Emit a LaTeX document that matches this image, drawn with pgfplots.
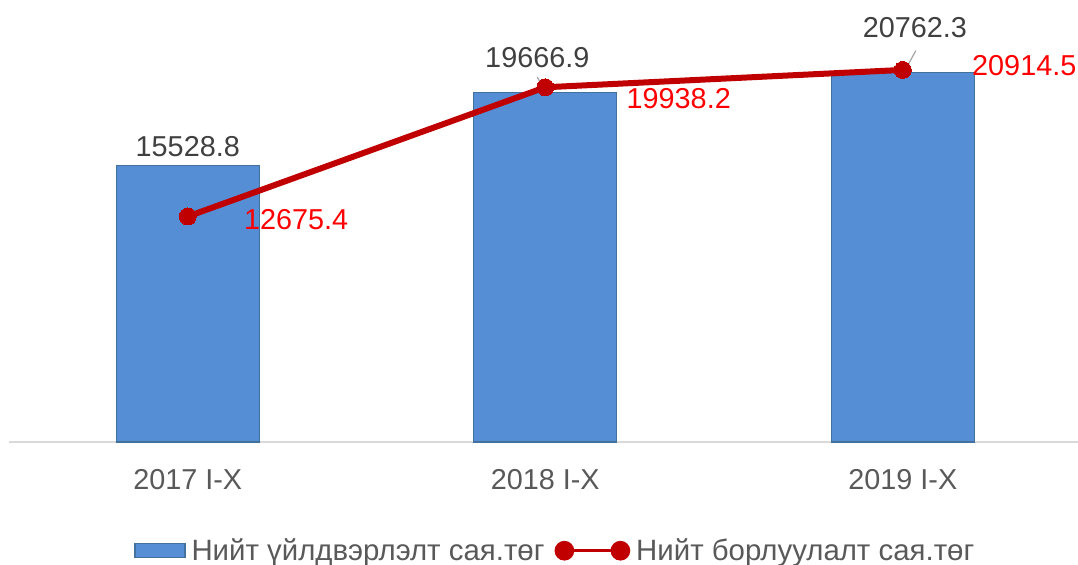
\documentclass[border=0pt]{standalone}
\usepackage{pgfplots}
\pgfplotsset{compat=1.18}
\usepackage{fontspec}
\setmainfont{Liberation Sans}
\definecolor{barblue}{RGB}{85,142,213}
\definecolor{baredge}{RGB}{65,113,156}
\definecolor{linered}{RGB}{192,0,0}
\definecolor{lblred}{RGB}{255,0,0}
\definecolor{txtgray}{RGB}{64,64,64}
\definecolor{tickgray}{RGB}{89,89,89}
\definecolor{axisgray}{RGB}{217,217,217}
\definecolor{leadgray}{RGB}{166,166,166}
\newcommand\lf{\fontsize{14.4}{17}\selectfont}
\newcommand\lgf{\fontsize{14.7}{17}\selectfont}
\begin{document}
\begin{tikzpicture}
\begin{axis}[
  at={(4.5pt,61.5pt)}, anchor=south west,
  scale only axis, width=534.5pt, height=221pt,
  xmin=-0.5, xmax=2.49, ymin=0, ymax=24845,
  axis y line=none, axis x line*=bottom,
  x axis line style={draw=axisgray, line width=0.75pt},
  xtick={0,1,2}, xticklabels={2017 I-X,2018 I-X,2019 I-X},
  major tick length=0pt,
  xticklabel style={font=\lf, text=tickgray, yshift=-10pt},
  clip=false,
  legend columns=2,
  legend style={at={(0.512,-0.246)}, anchor=center, draw=none, fill=none,
    font=\lgf, text=tickgray, inner sep=0pt,
    /tikz/every even column/.append style={column sep=3pt},
    /tikz/every odd column/.append style={column sep=1pt}},
]
\addplot[ybar, bar width=71.5pt, fill=barblue, draw=baredge, line width=0.6pt,
  legend image code/.code={\draw[fill=barblue, draw=baredge, line width=0.6pt] (0pt,-3.5pt) rectangle (25pt,3.5pt);}]
  coordinates {(0,15528.8) (1,19666.9) (2,20762.3)};
\addlegendentry{Нийт үйлдвэрлэлт сая.төг}
\addplot[color=linered, line width=3pt, mark=*, mark size=4.25pt,
  mark options={fill=linered, draw=linered, line width=0pt},
  legend image code/.code={\draw[linered, line width=1.6pt] (2pt,0pt) -- (30pt,0pt);
     \fill[linered] (2pt,0pt) circle (3.4pt); \fill[linered] (30pt,0pt) circle (3.4pt);}]
  coordinates {(0,12675.4) (1,19938.2) (2,20914.5)};
\addlegendentry{Нийт борлуулалт сая.төг}
% bar value labels
\node[font=\lf, text=txtgray, anchor=base, inner sep=0pt, yshift=4.5pt] at (axis cs:0,15528.8) {15528.8};
\node[font=\lf, text=txtgray, anchor=base, inner sep=0pt, xshift=-4pt, yshift=12.5pt] at (axis cs:1,19666.9) {19666.9};
\node[font=\lf, text=txtgray, anchor=base, inner sep=0pt, xshift=6pt, yshift=17.5pt] at (axis cs:2,20762.3) {20762.3};
\draw[leadgray, line width=0.6pt] ([xshift=-4pt,yshift=7.5pt]axis cs:1,19666.9) -- ([xshift=0pt,yshift=0pt]axis cs:1,19666.9);
\draw[leadgray, line width=0.6pt] ([xshift=6.5pt,yshift=11pt]axis cs:2,20762.3) -- ([xshift=0.5pt,yshift=0pt]axis cs:2,20762.3);
% line value labels
\node[font=\lf, text=lblred, anchor=base west, inner sep=0pt, xshift=28pt, yshift=-6.5pt] at (axis cs:0,12675.4) {12675.4};
\node[font=\lf, text=lblred, anchor=base west, inner sep=0pt, xshift=40.5pt, yshift=-10.5pt] at (axis cs:1,19938.2) {19938.2};
\node[font=\lf, text=lblred, anchor=base west, inner sep=0pt, xshift=34.5pt, yshift=-3pt] at (axis cs:2,20914.5) {20914.5};
\end{axis}
\pgfresetboundingbox
\path[use as bounding box] (0,0) rectangle (539pt,282.5pt);
\end{tikzpicture}
\end{document}
